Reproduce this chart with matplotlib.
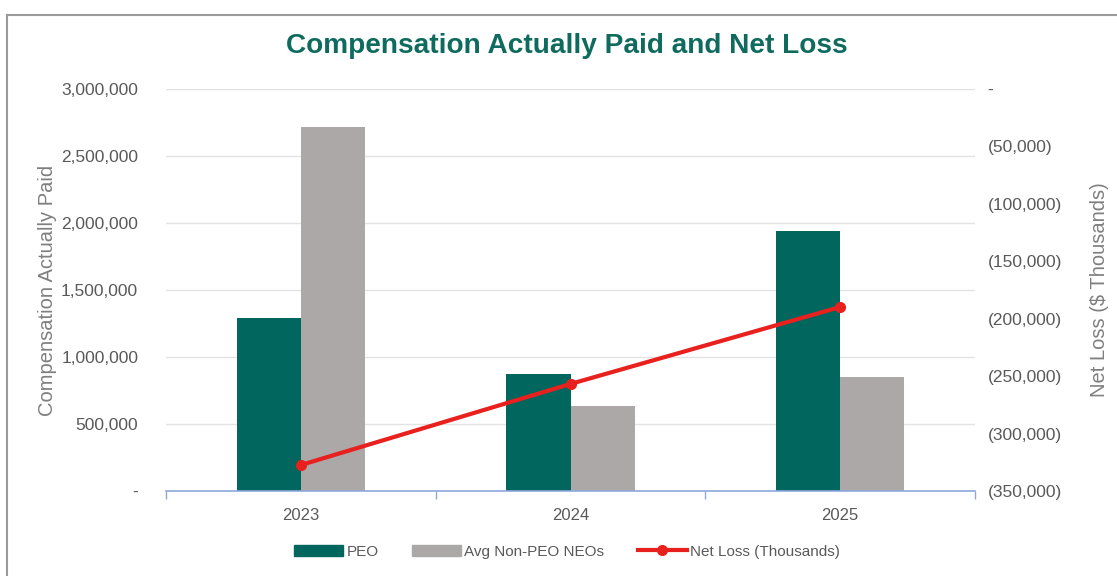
import matplotlib.pyplot as plt
import numpy as np
from matplotlib.ticker import FuncFormatter, MultipleLocator
from matplotlib.lines import Line2D
from matplotlib.patches import Patch

years = ["2023", "2024", "2025"]
peo = [1290000, 873000, 1940000]
avg_non_peo = [2716000, 634000, 851000]
net_loss = [-327400, -256800, -189800]

TEAL = "#00665E"
GRAY = "#ABA8A7"
RED = "#E8211E"
TEXT = "#595959"
AXIS_BLUE = "#8EA9DB"

plt.rcParams["font.family"] = ["Liberation Sans", "DejaVu Sans"]

fig = plt.figure(figsize=(11.17, 5.76), dpi=100)
ax = fig.add_axes([0.1486, 0.1476, 0.7243, 0.6979])
ax2 = ax.twinx()

x = np.arange(len(years))
w = 0.2375
ax.bar(x - w / 2, peo, w, color=TEAL, zorder=2)
ax.bar(x + w / 2, avg_non_peo, w, color=GRAY, zorder=2)
ax.set_xlim(-0.5, 2.5)
ax.set_ylim(0, 3000000)
ax.yaxis.set_major_locator(MultipleLocator(500000))
ax.yaxis.set_major_formatter(FuncFormatter(lambda v, p: "-" if v == 0 else f"{int(v):,}"))
ax.grid(axis="y", color="#E3E3E3", linewidth=1, zorder=0)
ax.set_axisbelow(True)

ax.set_xticks(x)
ax.set_xticklabels(years)
ax.set_xticks([-0.5, 0.5, 1.5, 2.5], minor=True)
ax.tick_params(axis="x", which="major", length=0, pad=12, labelsize=12, labelcolor=TEXT)
ax.tick_params(axis="x", which="minor", length=6, color=AXIS_BLUE, width=1)
ax.tick_params(axis="y", length=0, pad=20, labelsize=12.5, labelcolor=TEXT)

ax2.plot(x, net_loss, color=RED, linewidth=3, marker="o", markersize=7, zorder=3)
ax2.set_ylim(-350000, 0)
ax2.yaxis.set_major_locator(MultipleLocator(50000))
ax2.yaxis.set_major_formatter(FuncFormatter(lambda v, p: "-" if v == 0 else f"({int(abs(v)):,})"))
ax2.tick_params(axis="y", length=0, pad=9, labelsize=12.5, labelcolor=TEXT)

for a in (ax, ax2):
    for s in ("top", "left", "right"):
        a.spines[s].set_visible(False)
ax2.spines["bottom"].set_visible(False)
ax.spines["bottom"].set_color(AXIS_BLUE)
ax.spines["bottom"].set_linewidth(1.2)

ax.set_ylabel("Compensation Actually Paid", fontsize=14.5, color="#7F7F7F", labelpad=3)
ax2.set_ylabel("Net Loss ($ Thousands)", fontsize=14.5, color="#7F7F7F", labelpad=20)

fig.text(0.5076, 0.92, "Compensation Actually Paid and Net Loss", ha="center", va="center",
         fontsize=20.2, fontweight="bold", color="#0E6B5E")

handles = [Patch(color=TEAL), Patch(color=GRAY),
           Line2D([], [], color=RED, linewidth=3, marker="o", markersize=7)]
fig.legend(handles, ["PEO", "Avg Non-PEO NEOs", "Net Loss (Thousands)"], loc="center",
           bbox_to_anchor=(0.5076, 0.042), ncol=3, frameon=False, fontsize=11,
           labelcolor=TEXT, handlelength=3.2, handleheight=0.7, columnspacing=2.2, handletextpad=0.2)

# outer frame (only top and left edges visible in the reference)
fig.add_artist(Line2D([0.006, 1.0], [0.974, 0.974], color="#9A9A9A", linewidth=1.5, transform=fig.transFigure))
fig.add_artist(Line2D([0.006, 0.006], [0.0, 0.974], color="#9A9A9A", linewidth=1.5, transform=fig.transFigure))

fig.savefig("out.png", dpi=100)
plt.close(fig)
